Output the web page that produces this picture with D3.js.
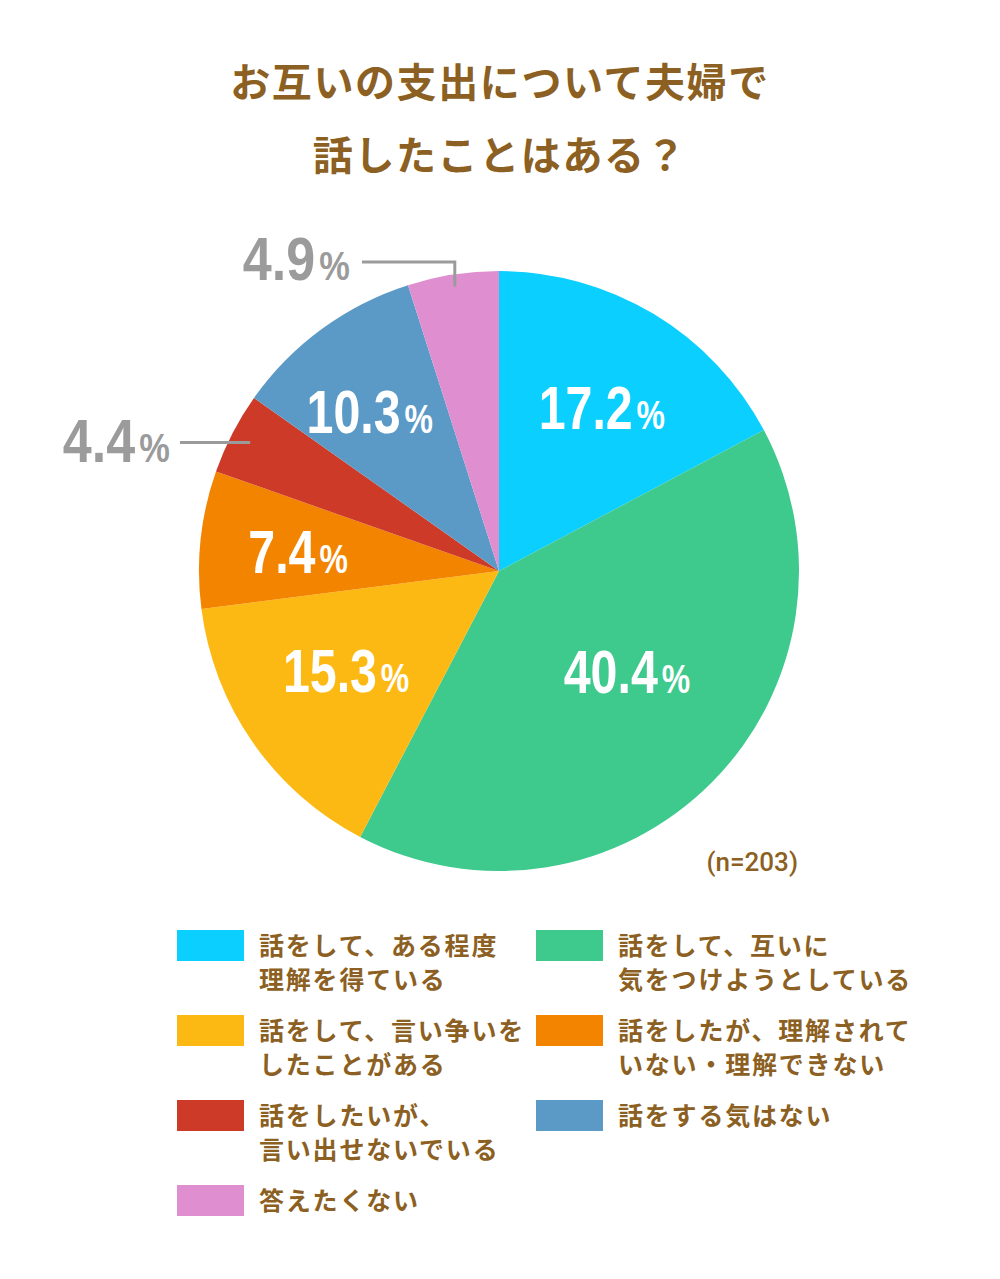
<!DOCTYPE html>
<html><head><meta charset="utf-8">
<script src="https://cdn.jsdelivr.net/npm/d3@7"></script>
<style>html,body{margin:0;padding:0;background:#fff;}</style>
</head><body><svg id="chart" width="1000" height="1279"></svg>
<script>
// ---- data ----
const titleLines = ["お互いの支出について夫婦で", "話したことはある？"];
const categories = [
  "話をして、ある程度\n理解を得ている",
  "話をして、互いに\n気をつけようとしている",
  "話をして、言い争いを\nしたことがある",
  "話をしたが、理解されて\nいない・理解できない",
  "話をしたいが、\n言い出せないでいる",
  "話をする気はない",
  "答えたくない"
];
const values = [17.2, 40.4, 15.3, 7.4, 4.4, 10.3, 4.9];
const colors = ["#0bcfff", "#3ec98d", "#fdb913", "#f38400", "#cd3b28", "#5b9ac6", "#df8fcf"];
const note = "(n=203)";

// ---- layout ----
const W = 1000, H = 1279;
const cx = 499, cy = 571, R = 300;
const brown = "#8c5f22";
const gray = "#9b9b9b";
const labelNudge = [[5, -2], [-7, -34], [3, -10], [-12, -1], [0, 0], [-17, -7], [0, 0]];

const svg = d3.select("#chart");
svg.append("rect").attr("width", W).attr("height", H).attr("fill", "#fff");

// title
svg.append("g").selectAll("text").data(titleLines).join("text")
  .attr("x", 500).attr("y", (d, i) => 97 + i * 73)
  .attr("text-anchor", "middle")
  .attr("font-family", "'Noto Sans CJK JP', sans-serif")
  .attr("font-weight", 700).attr("font-size", 40)
  .attr("letter-spacing", 1.6)
  .attr("fill", brown).text(d => d);

// pie
const pie = d3.pie().sort(null).value(d => d);
const arcs = pie(values);
const arc = d3.arc().innerRadius(0).outerRadius(R);
const g = svg.append("g").attr("transform", `translate(${cx},${cy})`);
g.selectAll("path").data(arcs).join("path")
  .attr("d", arc).attr("fill", (d, i) => colors[i]);

function pctLabel(sel, x, y, anchor, fill, v, sx) {
  const t = sel.append("text")
    .attr("transform", `translate(${x},${y}) scale(${sx},1)`)
    .attr("text-anchor", anchor)
    .attr("font-family", "'Liberation Sans', Arial, sans-serif")
    .attr("font-weight", 700).attr("fill", fill);
  t.append("tspan").attr("font-size", 62).text(d3.format(".1f")(v));
  t.append("tspan").attr("font-size", 41).attr("dx", 5).text("%");
}

const labelArc = d3.arc().innerRadius(190).outerRadius(190);
arcs.forEach((a, i) => {
  if (a.data >= 5) {
    const [lx, ly] = labelArc.centroid(a);
    pctLabel(g, lx + labelNudge[i][0], ly + labelNudge[i][1] + 22.5, "middle", "#fff", a.data, 0.78);
  }
});

// outside labels with leader lines
const lead = svg.append("g");
// 4.4% (red)
{
  const a = arcs[4];
  const p = d3.arc().innerRadius(280).outerRadius(280).centroid(a);
  const sx = cx + p[0], sy = cy + p[1];
  lead.append("path").attr("d", `M${sx},${sy}H180`)
    .attr("stroke", gray).attr("stroke-width", 3).attr("fill", "none");
  pctLabel(lead, 170, sy + 19, "end", gray, a.data, 0.84);
}
// 4.9% (pink)
{
  const a = arcs[6];
  const p = d3.arc().innerRadius(288).outerRadius(288).centroid(a);
  const sx = cx + p[0], sy = cy + p[1];
  lead.append("path").attr("d", `M${sx},${sy}V262H362`)
    .attr("stroke", gray).attr("stroke-width", 3).attr("fill", "none");
  pctLabel(lead, 350, 280, "end", gray, a.data, 0.84);
}

// note
svg.append("text").attr("x", 798).attr("y", 871).attr("text-anchor", "end")
  .attr("font-family", "Roboto, sans-serif").attr("font-weight", 500)
  .attr("font-size", 26).attr("fill", brown).text(note);

// legend
const colX = [177, 536];
const lg = svg.append("g");
categories.forEach((c, i) => {
  const col = i % 2, row = Math.floor(i / 2);
  const x = colX[col], y = 930 + row * 85;
  lg.append("rect").attr("x", x).attr("y", y).attr("width", 67).attr("height", 31)
    .attr("fill", colors[i]);
  const t = lg.append("text")
    .attr("font-family", "'Noto Sans CJK JP', sans-serif")
    .attr("font-weight", 700).attr("font-size", 25)
    .attr("letter-spacing", 1.8).attr("fill", brown);
  c.split("\n").forEach((line, j) => {
    t.append("tspan").attr("x", x + 82).attr("y", y + 25 + j * 34).text(line);
  });
});
</script></body></html>
